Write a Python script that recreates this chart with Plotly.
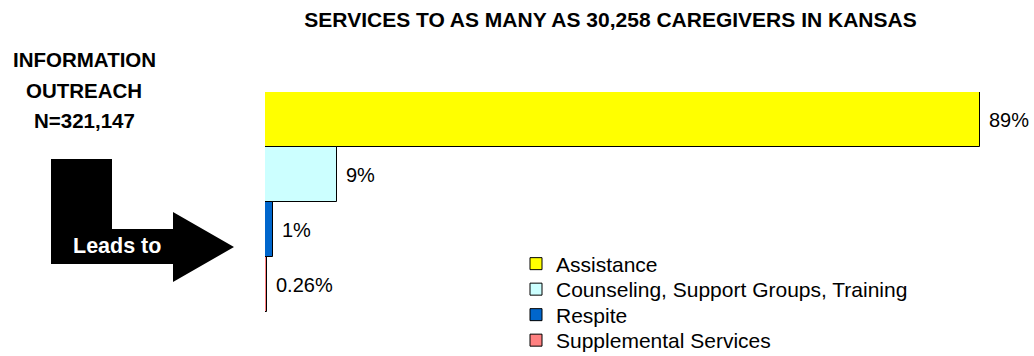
import plotly.graph_objects as go

# Service categories and their share of caregivers served (percent)
categories = ["Assistance", "Counseling, Support Groups, Training", "Respite", "Supplemental Services"]
shares = [89, 9, 1, 0.26]
colors = ["#FFFF00", "#CCFFFF", "#0066CC", "#FF8080"]

title_text = "SERVICES TO AS MANY AS 30,258 CAREGIVERS IN KANSAS"
side_lines = ["INFORMATION", "OUTREACH", "N=321,147"]
arrow_label = "Leads to"

W, H = 1034, 356
ML, MR, MT, MB = 265, 0, 92, 44
PW, PH = W - ML - MR, H - MT - MB
X_MAX = 95.7
FONT = "Arial, Liberation Sans, sans-serif"

# legend rows: left edge and vertical centre of each entry (pixels)
LEG_X = 516
LEG_ROWS = [264, 289.5, 315, 340.5]


def px(x, y):
    """Convert a pixel position on the page to paper coordinates."""
    return (x - ML) / PW, (H - MB - y) / PH


fig = go.Figure()
legend_layouts = {}
for i, (cat, val, col) in enumerate(zip(categories, shares, colors)):
    key = "legend" if i == 0 else f"legend{i + 1}"
    fig.add_trace(go.Bar(
        x=[val], y=[cat], orientation="h", name=cat, legend=key,
        marker=dict(color=col, line=dict(color="black", width=1)),
        hoverinfo="skip",
    ))
    fig.add_annotation(
        x=val, y=cat, xref="x", yref="y", text=f"{val:g}%",
        showarrow=False, xanchor="left", yanchor="middle", xshift=7,
        font=dict(family=FONT, size=20, color="black"),
    )
    lx, ly = px(LEG_X, LEG_ROWS[i])
    legend_layouts[key] = dict(
        x=lx, y=ly, xanchor="left", yanchor="middle", orientation="v",
        bgcolor="rgba(0,0,0,0)", borderwidth=0,
        font=dict(family=FONT, size=21, color="black"),
    )

# Left-hand caption
for i, line in enumerate(side_lines):
    x, y = px(84, 60 + 30 * i)
    fig.add_annotation(
        x=x, y=y, xref="paper", yref="paper", text=f"<b>{line}</b>",
        showarrow=False, xanchor="center", yanchor="middle",
        font=dict(family=FONT, size=20.5, color="black"),
    )

# Bent arrow leading into the bars
arrow_pts = [(51, 159), (112, 159), (112, 229), (173, 229), (173, 212),
             (234, 247), (173, 282), (173, 264), (51, 264)]
path = "M " + " L ".join(f"{px(a, b)[0]:.5f},{px(a, b)[1]:.5f}" for a, b in arrow_pts) + " Z"
fig.add_shape(type="path", path=path, xref="paper", yref="paper",
              fillcolor="black", line=dict(color="black", width=0), layer="above")
lx, ly = px(117, 246)
fig.add_annotation(
    x=lx, y=ly, xref="paper", yref="paper", text=f"<b>{arrow_label}</b>",
    showarrow=False, xanchor="center", yanchor="middle",
    font=dict(family=FONT, size=21.5, color="white"),
)

fig.update_layout(
    width=W, height=H,
    margin=dict(l=ML, r=MR, t=MT, b=MB, pad=0, autoexpand=False),
    paper_bgcolor="white", plot_bgcolor="white",
    barmode="relative", bargap=0,
    title=dict(text=f"<b>{title_text}</b>", x=610.5 / W, xref="container", xanchor="center",
               y=1 - 19.5 / H, yref="container", yanchor="middle",
               font=dict(family=FONT, size=21, color="black")),
    xaxis=dict(range=[0, X_MAX], visible=False, fixedrange=True),
    yaxis=dict(categoryorder="array", categoryarray=categories, autorange="reversed",
               visible=False, fixedrange=True),
    showlegend=True,
    **legend_layouts,
)

fig.write_html("out.html")
